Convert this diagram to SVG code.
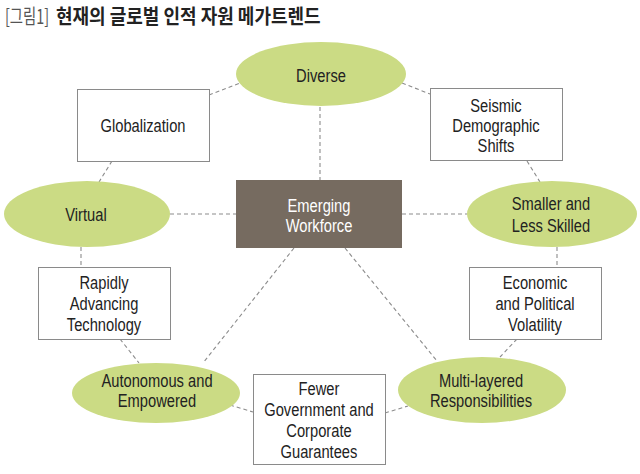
<svg xmlns="http://www.w3.org/2000/svg" width="640" height="474" viewBox="0 0 640 474">
<defs>
<style>
.ell{fill:#cbdb84;stroke:none}
.box{fill:#ffffff;stroke:#8a8a8a;stroke-width:1}
.center{fill:#766b60;stroke:none}
.lbl{font-family:"Liberation Sans",Arial,sans-serif;font-size:17.5px;fill:#222222;text-anchor:middle}
.wht{fill:#ffffff}
.con line{stroke:#8c8c8c;stroke-width:1.1;stroke-dasharray:4 3;fill:none}
.ttl{font-family:"Noto Sans CJK KR",sans-serif;font-size:20px}
</style>
</defs>
<rect width="640" height="474" fill="#ffffff"/>
<g id="title">
<text class="ttl" transform="translate(5 0) scale(0.72 1)" x="0" y="24" fill="#555555">[그림1]</text>
<text class="ttl" transform="translate(56 0) scale(0.9 1)" x="0" y="24" fill="#222222" font-weight="bold">현재의 글로벌 인적 자원 메가트렌드</text>
</g>
<g id="connectors" class="con">
<line x1="209" y1="95" x2="240" y2="83"/>
<line x1="402" y1="83" x2="430" y2="94"/>
<line x1="320" y1="107" x2="320" y2="180"/>
<line x1="112" y1="161" x2="99" y2="182"/>
<line x1="527" y1="161" x2="540" y2="182"/>
<line x1="170" y1="214" x2="236" y2="214"/>
<line x1="402" y1="214" x2="467" y2="214"/>
<line x1="81" y1="247" x2="81" y2="267"/>
<line x1="557" y1="247" x2="557" y2="267"/>
<line x1="120" y1="339" x2="139" y2="363"/>
<line x1="294" y1="248" x2="203" y2="363"/>
<line x1="345" y1="248" x2="437" y2="361"/>
<line x1="517" y1="339" x2="500" y2="357"/>
<line x1="230" y1="405" x2="253" y2="412"/>
<line x1="385" y1="413" x2="408" y2="406"/>
</g>
<g id="diverse">
<ellipse class="ell" cx="321" cy="74" rx="85" ry="32"/>
<text class="lbl" transform="translate(321 0) scale(0.84 1)" x="0" y="82">Diverse</text>
</g>
<g id="globalization">
<rect class="box" x="77.5" y="89.5" width="132" height="72"/>
<text class="lbl" transform="translate(143 0) scale(0.84 1)" x="0" y="132">Globalization</text>
</g>
<g id="seismic">
<rect class="box" x="430.5" y="88.5" width="132" height="72"/>
<text class="lbl" transform="translate(496 0) scale(0.84 1)"><tspan x="0" y="112">Seismic</tspan><tspan x="0" y="132">Demographic</tspan><tspan x="0" y="152">Shifts</tspan></text>
</g>
<g id="virtual">
<ellipse class="ell" cx="87" cy="214" rx="83" ry="33"/>
<text class="lbl" transform="translate(86 0) scale(0.84 1)" x="0" y="221">Virtual</text>
</g>
<g id="emerging">
<rect class="center" x="236" y="180" width="166" height="68"/>
<text class="lbl wht" transform="translate(319 0) scale(0.84 1)"><tspan x="0" y="212">Emerging</tspan><tspan x="0" y="232">Workforce</tspan></text>
</g>
<g id="smaller">
<ellipse class="ell" cx="552" cy="214" rx="85" ry="33"/>
<text class="lbl" transform="translate(551 0) scale(0.84 1)"><tspan x="0" y="210">Smaller and</tspan><tspan x="0" y="232">Less Skilled</tspan></text>
</g>
<g id="rapidly">
<rect class="box" x="38.5" y="267.5" width="132" height="72"/>
<text class="lbl" transform="translate(104 0) scale(0.84 1)"><tspan x="0" y="289">Rapidly</tspan><tspan x="0" y="310">Advancing</tspan><tspan x="0" y="331">Technology</tspan></text>
</g>
<g id="economic">
<rect class="box" x="469.5" y="267.5" width="132" height="72"/>
<text class="lbl" transform="translate(535 0) scale(0.84 1)"><tspan x="0" y="289">Economic</tspan><tspan x="0" y="310">and Political</tspan><tspan x="0" y="331">Volatility</tspan></text>
</g>
<g id="autonomous">
<ellipse class="ell" cx="156" cy="393" rx="84" ry="30"/>
<text class="lbl" transform="translate(157 0) scale(0.84 1)"><tspan x="0" y="387">Autonomous and</tspan><tspan x="0" y="407">Empowered</tspan></text>
</g>
<g id="fewer">
<rect class="box" x="253.5" y="374.5" width="132" height="90"/>
<text class="lbl" transform="translate(319 0) scale(0.84 1)"><tspan x="0" y="395">Fewer</tspan><tspan x="0" y="416">Government and</tspan><tspan x="0" y="437">Corporate</tspan><tspan x="0" y="458">Guarantees</tspan></text>
</g>
<g id="multi">
<ellipse class="ell" cx="482" cy="390" rx="84" ry="33"/>
<text class="lbl" transform="translate(481 0) scale(0.84 1)"><tspan x="0" y="387">Multi-layered</tspan><tspan x="0" y="407">Responsibilities</tspan></text>
</g>
</svg>
